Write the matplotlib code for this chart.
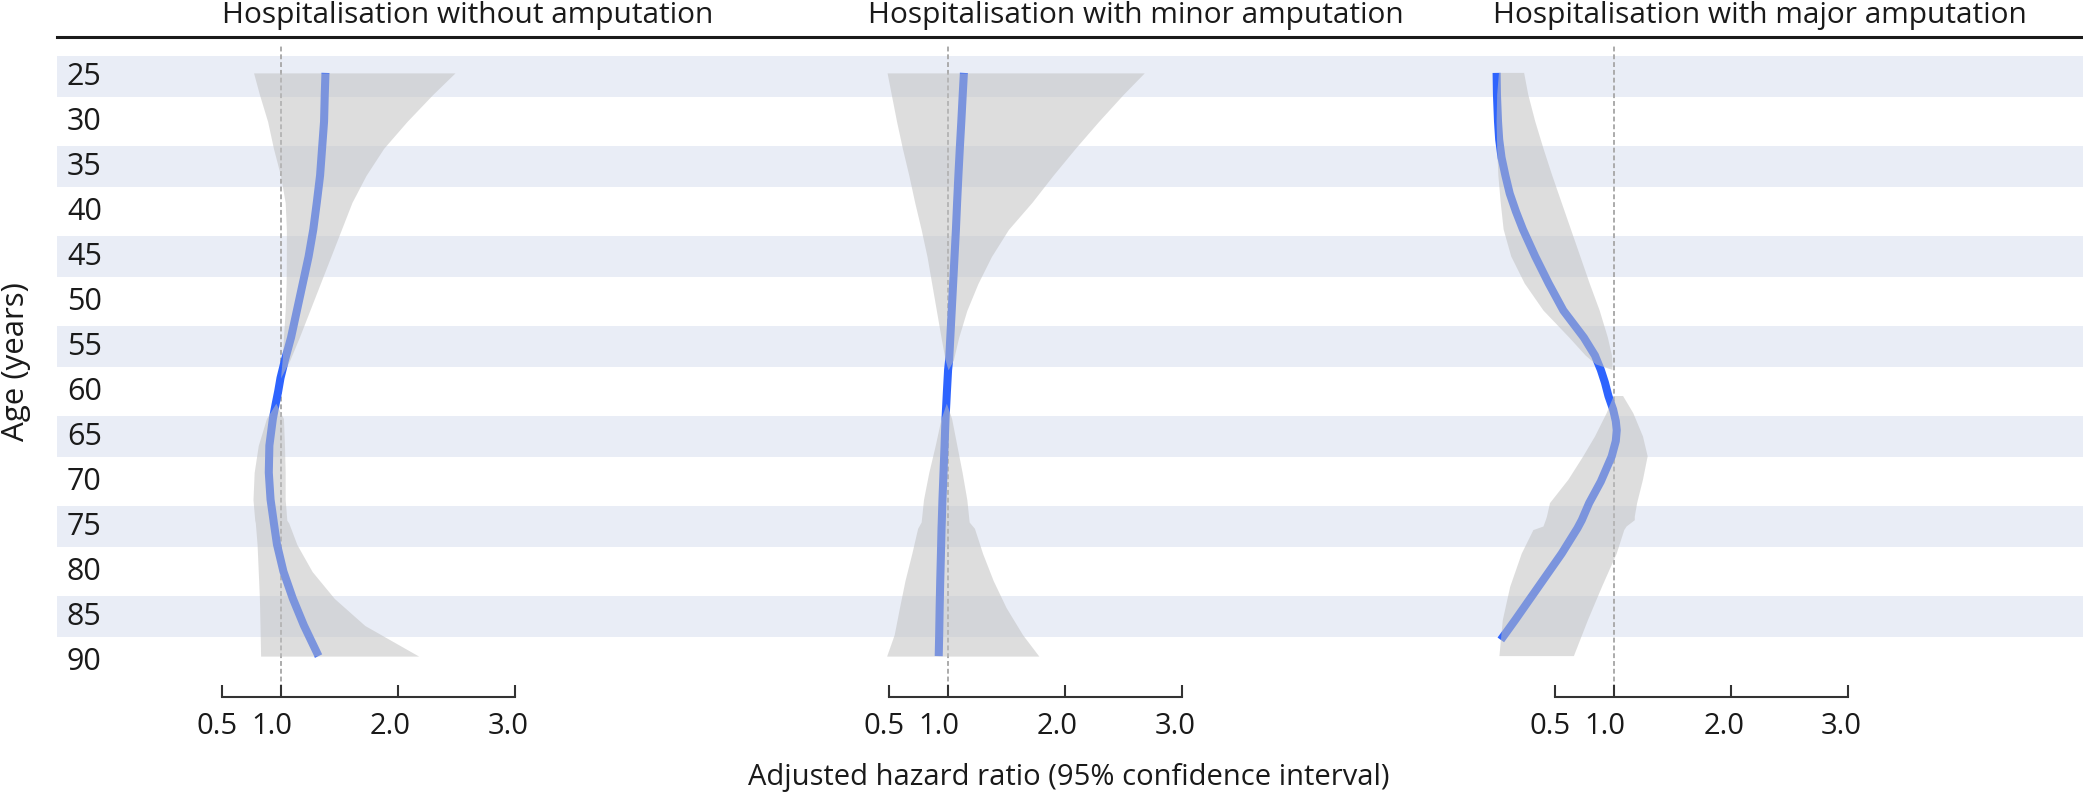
import numpy as np
import matplotlib
matplotlib.use("Agg")
import matplotlib.pyplot as plt
import matplotlib.transforms as mtransforms

plt.rcParams['font.family'] = ['Open Sans', 'DejaVu Sans']

# ---- data ----
titles = ["Hospitalisation without amputation",
          "Hospitalisation with minor amputation",
          "Hospitalisation with major amputation"]
age_ticks = [25, 30, 35, 40, 45, 50, 55, 60, 65, 70, 75, 80, 85, 90]
band_ages = [25, 35, 45, 55, 65, 75, 85]
hr_ticks = [0.5, 1.0, 2.0, 3.0]
hr_labels = ["0.5", "1.0", "2.0", "3.0"]

# panel 1: without amputation
age_1 = [24.6, 27, 30, 33, 36, 39, 42, 45, 48, 51, 54, 56.5, 58.5, 60, 61.3,
         63, 66, 69, 72, 74.3, 74.6, 77, 80, 83, 86, 89.4]
hr_1 = [1.384, 1.378, 1.372, 1.355, 1.338, 1.31, 1.28, 1.24, 1.19, 1.14, 1.09,
        1.038, 1.0, 0.98, 0.96, 0.935, 0.905, 0.90, 0.915, 0.94, 0.943, 0.97,
        1.025, 1.105, 1.20, 1.325]
lo_1 = [0.77, 0.82, 0.89, 0.94, 1.0, 1.04, 1.05, 1.05, 1.048, 1.04, 1.025,
        1.014, 1.0, 0.98, 0.96, 0.88, 0.81, 0.775, 0.765, 0.78, 0.785, 0.80,
        0.81, 0.82, 0.825, 0.83]
hi_1 = [2.49, 2.30, 2.08, 1.88, 1.73, 1.61, 1.52, 1.43, 1.34, 1.25, 1.16,
        1.08, 1.0, 0.98, 0.96, 1.025, 1.034, 1.04, 1.04, 1.054, 1.07, 1.14,
        1.27, 1.46, 1.72, 2.18]

# panel 2: minor amputation
age_2 = [24.6, 27, 30, 33, 36, 39, 42, 45, 48, 51, 54, 56.5, 57.6, 60, 61.3,
         63, 66, 69, 72, 74.5, 75.2, 78, 81, 84, 87, 89.4]
hr_2 = [1.14, 1.13, 1.118, 1.105, 1.093, 1.082, 1.072, 1.06, 1.048, 1.036,
        1.024, 1.014, 1.005, 0.995, 0.99, 0.983, 0.975, 0.966, 0.957, 0.951,
        0.949, 0.944, 0.938, 0.933, 0.929, 0.925]
lo_2 = [0.484, 0.52, 0.565, 0.615, 0.67, 0.72, 0.775, 0.825, 0.865, 0.905,
        0.945, 0.98, 1.005, 0.995, 0.99, 0.945, 0.895, 0.84, 0.795, 0.775,
        0.745, 0.695, 0.637, 0.59, 0.545, 0.48]
hi_2 = [2.68, 2.50, 2.29, 2.09, 1.90, 1.72, 1.52, 1.375, 1.26, 1.165, 1.095,
        1.05, 1.005, 0.995, 0.99, 1.035, 1.08, 1.125, 1.165, 1.185, 1.23, 1.30,
        1.39, 1.50, 1.64, 1.78]

# panel 3: major amputation (line and CI on their own age grids)
age_3 = [24.6, 27, 30, 32, 34, 36, 38, 40, 42, 45, 48, 51, 54, 56, 57.6, 59,
         60.5, 62, 63.3, 64.3, 65.5, 67.2, 70, 72.4, 74.3, 75.2, 78, 81.7,
         85.4, 87.6]
hr_3 = [0.0, 0.003, 0.012, 0.022, 0.042, 0.075, 0.112, 0.165, 0.225, 0.33,
        0.445, 0.57, 0.745, 0.84, 0.89, 0.925, 0.955, 0.995, 1.018, 1.026,
        1.018, 0.983, 0.89, 0.79, 0.727, 0.69, 0.556, 0.357, 0.158, 0.036]
age_ci_3 = [24.6, 27, 30, 33, 36, 39, 42, 45, 48, 51, 54, 56, 57, 57.6, 59.0,
            60.5, 62.4, 65, 67.2, 69.8, 72.4, 73.9, 74.3, 75.0, 75.4, 78, 81.7,
            85.4, 89.4]
lo_3 = [0.02, 0.005, 0.0, 0.005, 0.015, 0.035, 0.06, 0.125, 0.24, 0.40, 0.62,
        0.76, 0.85, 0.99, np.nan, 1.0, 0.94, 0.84, 0.74, 0.613, 0.456, 0.43,
        0.42, 0.40, 0.314, 0.215, 0.116, 0.053, 0.024]
hi_3 = [0.235, 0.27, 0.33, 0.40, 0.475, 0.555, 0.635, 0.715, 0.795, 0.88,
        0.95, 0.985, 0.99, 0.99, np.nan, 1.08, 1.167, 1.25, 1.29, 1.25, 1.20,
        1.18, 1.18, 1.11, 1.09, 1.026, 0.90, 0.78, 0.66]

panels = [
    (age_1, hr_1, age_1, lo_1, hi_1),
    (age_2, hr_2, age_2, lo_2, hi_2),
    (age_3, hr_3, age_ci_3, lo_3, hi_3),
]

# ---- layout (pixels of a 2083x794 canvas) ----
W, H = 2083, 794
fig = plt.figure(figsize=(W / 100, H / 100), dpi=100)

px_unit = 117.1                     # pixels per 1.0 of hazard ratio
one_px = [280.5, 947.5, 1613.7]     # x position of HR = 1.0 in each panel
xlim = (-1.0, 3.2)
y_top_px, y_bot_px = 45, 697
age25_px, px_year = 76.5, 9.0
ylim = (25 + (y_bot_px - age25_px) / px_year, 25 + (y_top_px - age25_px) / px_year)
ax_b = 1 - y_bot_px / H
ax_h = (y_bot_px - y_top_px) / H

band_col = '#E9EDF6'
line_col = '#2E64FE'
ci_col = '#C0C0C0'
txt_col = '#1a1a1a'

# background axes with the stripes
bg = fig.add_axes([57 / W, ax_b, (W - 57) / W, ax_h])
bg.set_ylim(ylim)
bg.set_xlim(0, 1)
for a in band_ages:
    bg.axhspan(a - 2.3, a + 2.3, color=band_col, lw=0)
bg.axis('off')

# top rule
fig.add_artist(plt.Line2D([57 / W, 1], [1 - 37 / H, 1 - 37 / H],
                          color=txt_col, lw=2.2, transform=fig.transFigure))

# age labels
trans = mtransforms.blended_transform_factory(fig.transFigure, bg.transData)
for a in age_ticks:
    fig.text(67 / W, a, str(a), transform=trans, ha='left', va='center',
             fontsize=22, color=txt_col)

label_shift = [-5, -9, -7, -7]

for i, (ages, hr, ages_ci, lo, hi) in enumerate(panels):
    width_px = (xlim[1] - xlim[0]) * px_unit
    left_px = one_px[i] + (xlim[0] - 1.0) * px_unit
    ax = fig.add_axes([left_px / W, ax_b, width_px / W, ax_h])
    ax.patch.set_alpha(0)
    ax.set_xlim(xlim)
    ax.set_ylim(ylim)

    ax.axvline(1.0, color='#ABABAB', lw=1.4, ls=(0, (2.5, 1.5)), zorder=1)
    ax.plot(hr, ages, color=line_col, lw=5.8, solid_capstyle='butt', zorder=2)
    ax.fill_betweenx(ages_ci, lo, hi, color=ci_col, alpha=0.53, lw=0, zorder=3)

    for s in ['left', 'right', 'top']:
        ax.spines[s].set_visible(False)
    ax.spines['bottom'].set_bounds(hr_ticks[0], hr_ticks[-1])
    ax.spines['bottom'].set_color('#333333')
    ax.spines['bottom'].set_linewidth(1.5)
    ax.set_yticks([])
    ax.set_xticks(hr_ticks)
    ax.set_xticklabels(hr_labels)
    ax.tick_params(axis='x', direction='in', length=8.5, width=1.5,
                   color='#333333', pad=11, labelsize=21, labelcolor=txt_col)
    for lab, dx in zip(ax.get_xticklabels(), label_shift):
        lab.set_transform(lab.get_transform() +
                          mtransforms.ScaledTranslation(dx / 100, 0, fig.dpi_scale_trans))

# panel titles
title_x = [468, 1136, 1760]
for t, x in zip(titles, title_x):
    fig.text(x / W, 1 - 16 / H, t, ha='center', va='center', fontsize=21.5,
             color=txt_col)

fig.text(1069 / W, 1 - 777 / H, "Adjusted hazard ratio (95% confidence interval)",
         ha='center', va='center', fontsize=21, color=txt_col)
fig.text(16 / W, 1 - 362 / H, "Age (years)", rotation=90, ha='center',
         va='center', fontsize=22.5, color=txt_col)

fig.savefig('out.png', dpi=100)
